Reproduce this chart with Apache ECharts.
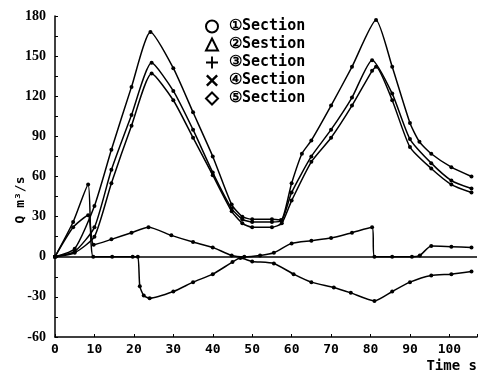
<!DOCTYPE html>
<html>
<head>
<meta charset="utf-8">
<script src="https://cdn.jsdelivr.net/npm/echarts@6/dist/echarts.min.js"></script>
<style>
html, body { margin: 0; padding: 0; background: #fff; }
#chart { width: 480px; height: 377px; }
</style>
</head>
<body>
<div id="chart"></div>
<script>
// section names (legend)
var names = ['①Section', '②Sestion', '③Section', '④Section', '⑤Section'];

// section 1 - lower big curve
var t1 = [0, 5, 10, 14.3, 19.4, 24.5, 30, 35, 40, 44.8, 47.5, 50, 55, 57.5, 60, 65, 70, 75.3, 80.4, 81.4, 85.5, 90, 95.4, 100.5, 105.6];
var q1 = [0, 3, 15, 55, 98, 137, 117, 89, 61, 34, 25, 22, 22, 25, 42, 71, 89, 113, 139, 142, 117, 82, 66, 54, 48];

// section 2 - middle big curve
var t2 = [0, 5, 10, 14.3, 19.4, 24.5, 30, 35, 40, 44.8, 47.5, 50, 55, 57.5, 60, 65, 70, 75.3, 80.4, 85.5, 90, 95.4, 100.5, 105.6];
var q2 = [0, 4, 22, 65, 106, 145, 124, 95, 63, 36, 28, 26, 26, 27, 48, 75, 95, 119, 147, 122, 88, 70, 57, 51];

// section 3 - upper big curve
var t3 = [0, 5, 10, 14.3, 19.4, 24.2, 30, 35, 40, 44.8, 47.5, 50, 55, 57.3, 60, 62.6, 65, 70, 75.3, 81.4, 85.5, 90, 92.4, 95.4, 100.5, 105.6];
var q3 = [0, 6, 38, 80, 127, 168, 141, 108, 75, 39, 30, 28, 28, 27.5, 55, 77, 87, 113, 142, 177, 142, 100, 86, 77, 67, 60];

// section 4 - spike then negative branch
var t4 = [0, 4.6, 8.4, 9.7, 14.5, 19.7, 21, 21.5, 22.5, 24, 30, 35, 40, 45, 47, 50, 55.5, 60.5, 65, 70.7, 75, 81, 85.5, 90, 95.4, 100.5, 105.6];
var q4 = [0, 26, 54, 0, 0, 0, 0, -22, -29, -31, -26, -19, -13, -4, -1, -3.5, -5, -13, -19, -23, -27, -33, -26, -19, -14, -13, -11];

// section 5 - small positive branch
var t5 = [0, 4.6, 8.4, 9.8, 14.3, 19.4, 23.7, 29.5, 35, 40, 44.8, 48, 52, 55.5, 60, 65, 70, 75.3, 80.4, 81, 85.5, 90.5, 92.5, 95.4, 100.5, 105.6];
var q5 = [0, 22, 31, 9, 13, 18, 22, 16, 11, 7, 1, 0, 1, 3, 10, 12, 14, 18, 22, 0, 0, 0, 1, 8, 7.5, 7];

var xTicks = { min: 0, max: 107, step: 10 };
var yTicks = { min: -60, max: 180, step: 30 };

var plusPath = 'path://M4.2,0H5.8V4.2H10V5.8H5.8V10H4.2V5.8H0V4.2H4.2Z';
var crossPath = 'path://M1.4,0L5,3.6L8.6,0L10,1.4L6.4,5L10,8.6L8.6,10L5,6.4L1.4,10L0,8.6L3.6,5L0,1.4Z';
var symbols = ['circle', 'triangle', plusPath, crossPath, 'diamond'];

function pairs(t, q) {
    var out = [];
    for (var i = 0; i < t.length; i++) {
        out.push([t[i], q[i]]);
    }
    return out;
}

var allT = [t1, t2, t3, t4, t5];
var allQ = [q1, q2, q3, q4, q5];

var series = [];
for (var k = 0; k < 5; k++) {
    var s = {
        name: names[k],
        type: 'line',
        data: pairs(allT[k], allQ[k]),
        smooth: 0.2,
        symbol: 'circle',
        symbolSize: 4,
        lineStyle: { color: '#000', width: 1.5 },
        itemStyle: { color: '#000' },
        animation: false
    };
    if (k == 0) {
        // horizontal zero line
        s.markLine = {
            silent: true,
            symbol: 'none',
            label: { show: false },
            lineStyle: { color: '#000', width: 1.5, type: 'solid' },
            data: [{ yAxis: 0 }]
        };
    }
    series.push(s);
}

var legendData = [];
for (var j = 0; j < 5; j++) {
    var hollow = (j == 0 || j == 1 || j == 4);
    legendData.push({
        name: names[j],
        icon: symbols[j],
        itemStyle: hollow ? { color: '#fff', borderColor: '#000', borderWidth: 2 } : { color: '#000', borderWidth: 0 }
    });
}

var chart = echarts.init(document.getElementById('chart'));
var option = {
    backgroundColor: '#fff',
    animation: false,
    grid: { left: 55, right: 3, top: 16, bottom: 40 },
    legend: {
        orient: 'vertical',
        left: 200,
        top: 14,
        itemWidth: 12,
        itemHeight: 12,
        itemGap: 3,
        data: legendData,
        textStyle: { fontFamily: 'DejaVu Sans Mono', fontWeight: 'bold', fontSize: 15, color: '#000', padding: [0, 0, 0, 6] }
    },
    xAxis: {
        type: 'value',
        min: xTicks.min,
        max: xTicks.max,
        interval: xTicks.step,
        axisLine: { onZero: false, lineStyle: { color: '#000', width: 1.5 } },
        axisTick: { inside: true, length: 3, lineStyle: { color: '#000' } },
        splitLine: { show: false },
        axisLabel: {
            color: '#000',
            fontFamily: 'DejaVu Sans Mono',
            fontWeight: 'bold',
            fontSize: 13,
            margin: 6,
            formatter: function (v) { return v % 10 === 0 ? v : ''; }
        }
    },
    yAxis: {
        type: 'value',
        min: yTicks.min,
        max: yTicks.max,
        interval: yTicks.step,
        axisLine: { show: true, lineStyle: { color: '#000', width: 1.5 } },
        axisTick: { show: true, inside: true, length: 3, lineStyle: { color: '#000' } },
        minorTick: { show: true, splitNumber: 2, length: 3, lineStyle: { color: '#000' } },
        splitLine: { show: false },
        axisLabel: {
            color: '#000',
            fontFamily: 'Liberation Sans Narrow',
            fontWeight: 'bold',
            fontSize: 14,
            margin: 9
        }
    },
    graphic: [
        {
            type: 'text',
            x: 21,
            y: 200,
            rotation: Math.PI / 2,
            style: {
                text: 'Q m³/s',
                align: 'center',
                verticalAlign: 'middle',
                fill: '#000',
                font: 'bold 13px "DejaVu Sans Mono"'
            }
        },
        {
            type: 'text',
            x: 477,
            y: 366,
            style: {
                text: 'Time s',
                align: 'right',
                verticalAlign: 'middle',
                fill: '#000',
                font: 'bold 14px "DejaVu Sans Mono"'
            }
        }
    ],
    series: series
};
chart.setOption(option);
</script>
</body>
</html>
